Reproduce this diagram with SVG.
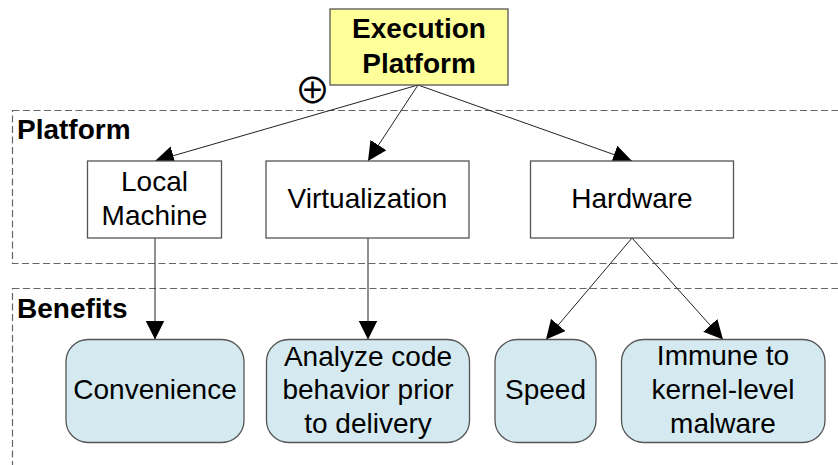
<svg xmlns="http://www.w3.org/2000/svg" width="838" height="465" viewBox="0 0 838 465">
  <defs>
    <marker id="arrow" markerUnits="userSpaceOnUse" markerWidth="20" markerHeight="20" refX="19" refY="9.5" orient="auto">
      <path d="M0,0 L19,9.5 L0,19 Z" fill="#000"/>
    </marker>
    <style>
      .t { font-family: "Liberation Sans", Arial, sans-serif; font-size: 28px; fill: #000; text-anchor: middle; }
      .b { font-weight: bold; }
      .lbl { font-family: "Liberation Sans", Arial, sans-serif; font-size: 28px; font-weight: bold; fill: #000; }
      .grp { fill: none; stroke: #666; stroke-width: 1.2; stroke-dasharray: 7 3.5; }
      .box { fill: #fff; stroke: #555; stroke-width: 1.3; }
      .ben { fill: #D4EAF0; stroke: #555; stroke-width: 1.3; }
      .root { fill: #FFFF99; stroke: #555; stroke-width: 1.3; }
      .edge { fill: none; stroke: #222; stroke-width: 1; marker-end: url(#arrow); }
    </style>
  </defs>

  <g id="group-platform">
    <rect class="grp" x="12.5" y="110.5" width="840" height="153"/>
    <text class="lbl" x="17" y="139">Platform</text>
  </g>
  <g id="group-benefits">
    <rect class="grp" x="12.5" y="288.5" width="840" height="200"/>
    <text class="lbl" x="17" y="318">Benefits</text>
  </g>

  <g id="connectors">
    <line class="edge" x1="418" y1="85" x2="155" y2="161"/>
    <line class="edge" x1="418" y1="85" x2="368" y2="161"/>
    <line class="edge" x1="418" y1="85" x2="632" y2="161"/>
    <line class="edge" x1="155" y1="238" x2="155" y2="339.5"/>
    <line class="edge" x1="368" y1="238" x2="368" y2="339.5"/>
    <line class="edge" x1="632" y1="238" x2="546" y2="339.5"/>
    <line class="edge" x1="632" y1="238" x2="723" y2="339.5"/>
  </g>

  <g id="node-execution-platform">
    <rect class="root" x="330" y="9" width="178" height="76"/>
    <text class="t b" x="419" y="38">Execution</text>
    <text class="t b" x="419" y="73">Platform</text>
  </g>
  <g id="xor-symbol">
    <text x="312.5" y="103.5" font-family="'Noto Sans CJK SC', 'DejaVu Sans', sans-serif" font-size="36" font-weight="400" text-anchor="middle" fill="#000">⊕</text>
  </g>

  <g id="node-local-machine">
    <rect class="box" x="87.5" y="161" width="134" height="77"/>
    <text class="t" x="154.5" y="191">Local</text>
    <text class="t" x="154.5" y="225">Machine</text>
  </g>
  <g id="node-virtualization">
    <rect class="box" x="266" y="161" width="203" height="77"/>
    <text class="t" x="367.5" y="208">Virtualization</text>
  </g>
  <g id="node-hardware">
    <rect class="box" x="530.5" y="161" width="203" height="77"/>
    <text class="t" x="632" y="208">Hardware</text>
  </g>

  <g id="node-convenience">
    <rect class="ben" x="66" y="339.5" width="178" height="103" rx="22" ry="22"/>
    <text class="t" x="155" y="399">Convenience</text>
  </g>
  <g id="node-analyze">
    <rect class="ben" x="266.5" y="339.5" width="203" height="103" rx="22" ry="22"/>
    <text class="t" x="368" y="365.5">Analyze code</text>
    <text class="t" x="368" y="399">behavior prior</text>
    <text class="t" x="368" y="432.5">to delivery</text>
  </g>
  <g id="node-speed">
    <rect class="ben" x="495" y="339.5" width="101" height="103" rx="22" ry="22"/>
    <text class="t" x="545.5" y="399">Speed</text>
  </g>
  <g id="node-immune">
    <rect class="ben" x="621.5" y="339.5" width="203.5" height="103" rx="22" ry="22"/>
    <text class="t" x="723" y="365">Immune to</text>
    <text class="t" x="723" y="399">kernel-level</text>
    <text class="t" x="723" y="432.5">malware</text>
  </g>
</svg>
